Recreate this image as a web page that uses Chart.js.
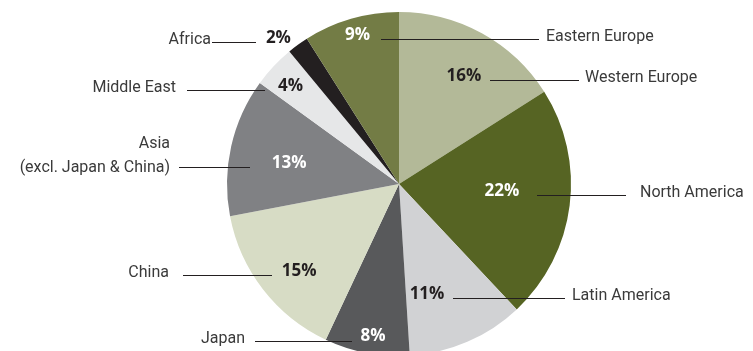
<!DOCTYPE html>
<html>
<head>
<meta charset="utf-8">
<script src="https://cdn.jsdelivr.net/npm/chart.js@4.4.1/dist/chart.umd.min.js"></script>
<style>
  html, body { margin: 0; padding: 0; background: #fff; overflow: hidden; }
  #wrap { width: 753px; height: 351px; overflow: hidden; }
</style>
</head>
<body>
<div id="wrap"><canvas id="pie" width="753" height="372"></canvas></div>
<script>
// data, clockwise from 12 o'clock
const regions = ['Western Europe', 'North America', 'Latin America', 'Japan', 'China',
                 ['Asia', '(excl. Japan & China)'], 'Middle East', 'Africa', 'Eastern Europe'];
const shares = [16, 22, 11, 8, 15, 13, 4, 2, 9];
const colors = ['#b3b998', '#566423', '#d1d2d4', '#58595b', '#d7dcc5',
                '#808184', '#e6e7e8', '#231f20', '#737c45'];
const pctColors = ['#231f20', '#fff', '#231f20', '#fff', '#231f20', '#fff', '#231f20', '#231f20', '#fff'];

// where the labels sit: t = position along the arc, r = fraction of radius,
// line = leader line x range, tx = text x, side = text alignment
const labelLayout = [
  { t: 0.54, r: 0.73, line: [490, 579], tx: 585, side: 'left' },
  { t: 0.46, r: 0.60, line: [537, 626], tx: 640, side: 'left' },
  { t: 0.73, r: 0.66, line: [453, 565], tx: 572, side: 'left' },
  { t: 0.46, r: 0.90, line: [255, 352], tx: 245, side: 'right' },
  { t: 0.44, r: 0.77, line: [183, 272], tx: 169, side: 'right' },
  { t: 0.46, r: 0.65, line: [179, 250], tx: 170, side: 'right' },
  { t: 0.42, r: 0.85, line: [187, 265], tx: 176, side: 'right' },
  { t: 0.00, r: 1.10, line: [212, 256], tx: 211, side: 'right' },
  { t: 0.52, r: 0.90, line: [381, 539], tx: 546, side: 'left' }
];

const PCT_FONT = 'bold 17px "Open Sans", "Noto Sans", sans-serif';
const CAT_FONT = '16px Roboto, "Noto Sans", sans-serif';

const calloutPlugin = {
  id: 'callouts',
  afterDatasetsDraw(chart) {
    const ctx = chart.ctx;
    const meta = chart.getDatasetMeta(0);
    ctx.save();
    meta.data.forEach((arc, i) => {
      const lay = labelLayout[i];
      const a = arc.startAngle + (arc.endAngle - arc.startAngle) * lay.t;
      const r = arc.outerRadius * lay.r;
      const px = arc.x + Math.cos(a) * r;
      const py = arc.y + Math.sin(a) * r;

      // percentage
      ctx.font = PCT_FONT;
      ctx.fillStyle = pctColors[i];
      ctx.textAlign = 'center';
      ctx.textBaseline = 'middle';
      ctx.fillText(shares[i] + '%', px, py);

      // leader line
      const ly = Math.round(py + 4) + 0.5;
      ctx.strokeStyle = '#231f20';
      ctx.lineWidth = 1;
      ctx.beginPath();
      ctx.moveTo(lay.line[0], ly);
      ctx.lineTo(lay.line[1], ly);
      ctx.stroke();

      // category name
      ctx.font = CAT_FONT;
      ctx.fillStyle = '#3a3a3a';
      ctx.textAlign = lay.side;
      ctx.textBaseline = 'alphabetic';
      const lines = Array.isArray(regions[i]) ? regions[i] : [regions[i]];
      const base = lines.length > 1 ? ly + 4 : ly + 1;
      lines.forEach((txt, k) => {
        ctx.fillText(txt, lay.tx, base - (lines.length - 1 - k) * 24);
      });
    });
    ctx.restore();
  }
};

new Chart(document.getElementById('pie'), {
  type: 'pie',
  data: {
    labels: regions,
    datasets: [{
      data: shares,
      backgroundColor: colors,
      borderWidth: 0
    }]
  },
  options: {
    responsive: false,
    animation: false,
    devicePixelRatio: 1,
    layout: { padding: { left: 227, right: 182, top: 12, bottom: 16 } },
    plugins: {
      legend: { display: false },
      tooltip: { enabled: false }
    }
  },
  plugins: [calloutPlugin]
});
</script>
</body>
</html>
